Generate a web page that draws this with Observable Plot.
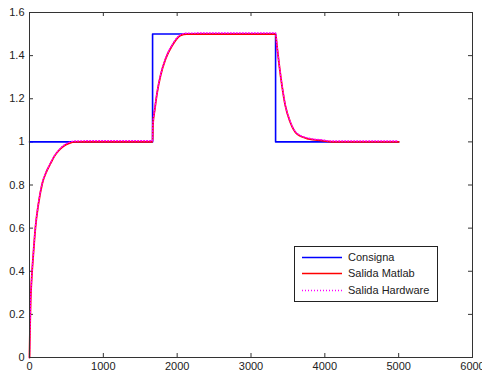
<!DOCTYPE html>
<html>
<head>
<meta charset="utf-8">
<script src="https://cdn.jsdelivr.net/npm/d3@7"></script>
<script src="https://cdn.jsdelivr.net/npm/@observablehq/plot@0.6"></script>
<style>
  html, body { margin: 0; padding: 0; background: #fff; }
  #chart { position: relative; width: 482px; height: 378px; }
</style>
</head>
<body>
<div id="chart"></div>
<script>
// Consigna (setpoint)
const consignaT = [0, 1667, 1667, 3333, 3333, 5000];
const consignaY = [1, 1, 1.5, 1.5, 1, 1];

// Salida Matlab
const matlabT = [0, 6, 15, 30, 50, 81, 120, 172, 230, 285, 340, 397, 460, 533, 623, 800, 1200, 1667,
  1671, 1698, 1730, 1775, 1843, 1933, 2046, 2130, 2500, 3000, 3333,
  3351, 3383, 3419, 3464, 3532, 3622, 3780, 3961, 4100, 4500, 5000];
const matlabY = [0, 0.12, 0.26, 0.37, 0.47, 0.605, 0.71, 0.806, 0.862, 0.9, 0.935, 0.96, 0.98, 0.993, 1.0, 1.0, 1.0, 1.0,
  1.076, 1.153, 1.231, 1.308, 1.385, 1.447, 1.494, 1.5, 1.5, 1.5, 1.5,
  1.447, 1.354, 1.262, 1.169, 1.091, 1.037, 1.014, 1.006, 1.0, 1.0, 1.0];

// Salida Hardware
const hardwareT = matlabT;
const hardwareY = [0, 0.122, 0.262, 0.372, 0.472, 0.607, 0.712, 0.808, 0.864, 0.902, 0.937, 0.962, 0.983, 0.997, 1.004, 1.005, 1.005, 1.005,
  1.078, 1.155, 1.233, 1.31, 1.387, 1.45, 1.497, 1.504, 1.505, 1.505, 1.505,
  1.45, 1.357, 1.265, 1.172, 1.094, 1.04, 1.017, 1.009, 1.004, 1.004, 1.004];

const xTicks = [0, 1000, 2000, 3000, 4000, 5000, 6000];
const yTicks = [0, 0.2, 0.4, 0.6, 0.8, 1, 1.2, 1.4, 1.6];

const legendLabels = ["Consigna", "Salida Matlab", "Salida Hardware"];
const legendColors = ["#0000ff", "#ff0000", "#ff00ff"];

const consigna = consignaT.map((t, i) => ({t, y: consignaY[i]}));
const matlab = matlabT.map((t, i) => ({t, y: matlabY[i]}));
const hardware = hardwareT.map((t, i) => ({t, y: hardwareY[i]}));

const W = 482, H = 378;
const mL = 29, mR = 10, mT = 12, mB = 21;
const pw = W - mL - mR, ph = H - mT - mB;
const tickLen = 4;

const plot = Plot.plot({
  width: W,
  height: H,
  marginLeft: mL,
  marginRight: mR,
  marginTop: mT,
  marginBottom: mB,
  style: {fontFamily: "Liberation Sans, Arial, sans-serif", fontSize: "11px", background: "#fff", color: "#222", overflow: "visible"},
  x: {domain: [0, 6000]},
  y: {domain: [0, 1.6]},
  marks: [
    Plot.axisX(xTicks, {tickSize: 0, tickPadding: 5, label: null, fontSize: 11, tickFormat: d => d3.format("d")(d)}),
    Plot.axisY(yTicks, {tickSize: 0, tickPadding: 5, label: null, fontSize: 11, tickFormat: d => d3.format("~g")(d)}),
    Plot.tickX(xTicks, {x: d => d, insetTop: ph - tickLen, stroke: "#333"}),
    Plot.tickX(xTicks, {x: d => d, insetBottom: ph - tickLen, stroke: "#333"}),
    Plot.tickY(yTicks, {y: d => d, insetRight: pw - tickLen, stroke: "#333"}),
    Plot.tickY(yTicks, {y: d => d, insetLeft: pw - tickLen, stroke: "#333"}),
    Plot.line(consigna, {x: "t", y: "y", stroke: legendColors[0], strokeWidth: 1.6}),
    Plot.line(matlab, {x: "t", y: "y", stroke: legendColors[1], strokeWidth: 1.8, curve: "monotone-x"}),
    Plot.line(hardware, {x: "t", y: "y", stroke: legendColors[2], strokeWidth: 1.4, strokeDasharray: "1,2", curve: "monotone-x"}),
    Plot.frame({stroke: "#333"})
  ]
});

document.getElementById("chart").appendChild(plot);

// Legend box drawn inside the svg
const svg = d3.select(plot);
const lx = 294, ly = 246, lw = 143, lh = 55;
const g = svg.append("g").attr("font-family", "Liberation Sans, Arial, sans-serif").attr("font-size", 11)
  .attr("text-anchor", "start");
g.append("rect").attr("x", lx + 0.5).attr("y", ly + 0.5).attr("width", lw).attr("height", lh)
  .attr("fill", "#fff").attr("stroke", "#222").attr("stroke-width", 1);
const rowY = [257.5, 273.5, 290.5];
legendLabels.forEach((lab, i) => {
  g.append("line").attr("x1", 302).attr("x2", 342).attr("y1", rowY[i]).attr("y2", rowY[i])
    .attr("stroke", legendColors[i]).attr("stroke-width", i === 2 ? 1.4 : 1.6)
    .attr("stroke-dasharray", i === 2 ? "1,2" : null);
  g.append("text").attr("x", 348).attr("y", rowY[i]).attr("dy", "0.35em")
    .attr("text-anchor", "start").attr("fill", "#222").text(lab);
});
</script>
</body>
</html>
